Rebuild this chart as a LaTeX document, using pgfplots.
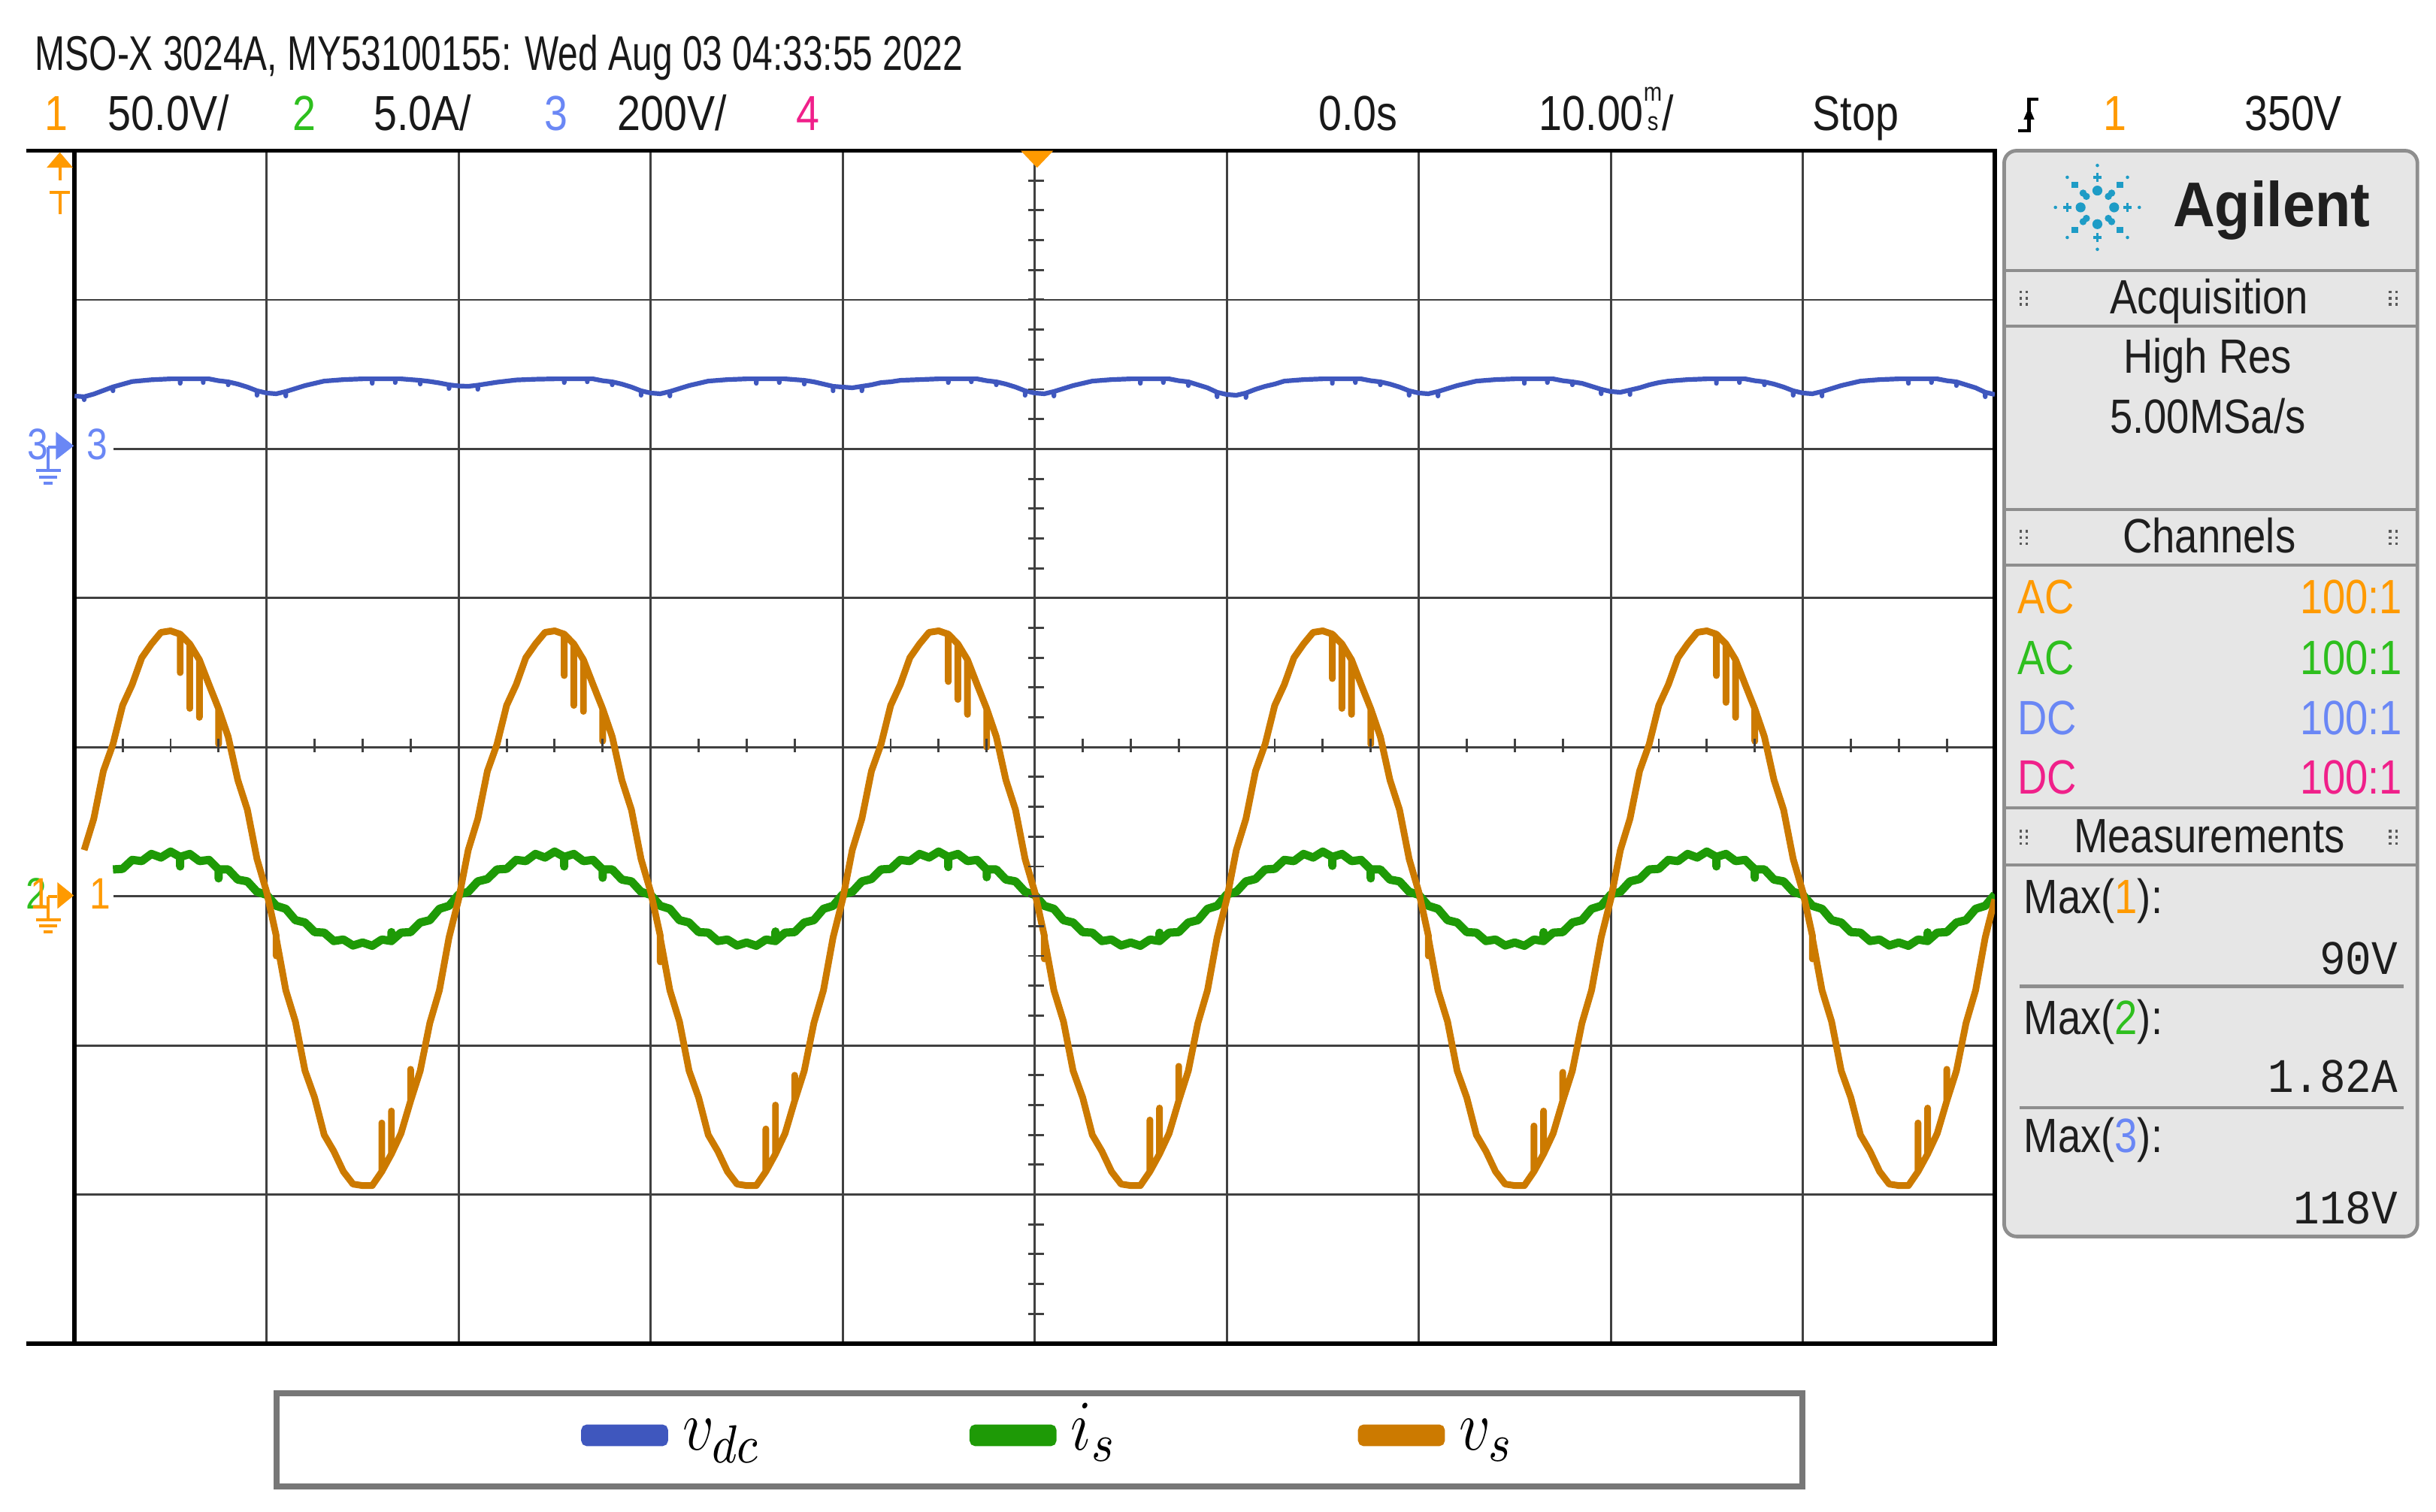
\documentclass[border=0pt]{standalone}
\usepackage{fontspec}
\usepackage{pgfplots}
\pgfplotsset{compat=1.18}
\setmainfont{Liberation Sans}
\newfontfamily\scopefont[FakeStretch=0.74]{Liberation Sans}
\newfontfamily\scopewide[FakeStretch=0.85]{Liberation Sans}
\newfontfamily\scopemono[FakeStretch=0.9]{Liberation Mono}
\newfontfamily\agilfont[FakeStretch=0.92]{Liberation Sans}

\definecolor{trblue}{HTML}{3F57BE}
\definecolor{trgreen}{HTML}{1E9A06}
\definecolor{trorange}{HTML}{CC7A00}
\definecolor{chone}{HTML}{FF9A00}
\definecolor{chtwo}{HTML}{2EBF1E}
\definecolor{chthree}{HTML}{6A87F5}
\definecolor{chfour}{HTML}{F0208A}
\definecolor{gridgray}{HTML}{404040}
\definecolor{panelfill}{HTML}{E6E6E6}
\definecolor{panelline}{HTML}{8E8E8E}
\definecolor{paneltext}{HTML}{1E1E1E}
\definecolor{agilentblue}{HTML}{1E9CC6}
\definecolor{legframe}{HTML}{777777}

\newcommand{\hdr}{\scopefont\fontsize{9.4}{11}\selectfont}
\newcommand{\hdrw}{\scopewide\fontsize{9.5}{11}\selectfont}
\newcommand{\pnl}{\scopewide\fontsize{9.3}{11}\selectfont}
\newcommand{\pmono}{\scopemono\fontsize{9.3}{11}\selectfont}
\newcommand{\lbl}{\scopewide\fontsize{8.5}{10}\selectfont}
\newcommand{\legtxt}[1]{\scalebox{1}[1.15]{$#1$}}

\begin{document}
\begin{tikzpicture}
\begin{axis}[
  at={(14.4pt,-259.5pt)}, anchor=south west,
  scale only axis, width=370.8pt, height=230.4pt,
  xmin=-50, xmax=50, ymin=-4, ymax=4,
  xtick={-40,-30,...,40}, ytick={-3,-2,...,3},
  xticklabels={}, yticklabels={},
  tick style={draw=none},
  grid=major, major grid style={draw=gridgray, line width=0.42pt},
  axis line style={draw=black, line width=0.8pt},
  legend columns=3,
  legend style={
    at={(0.1036,-0.0391)}, anchor=north west,
    draw=legframe, line width=1.2pt,
    inner xsep=58.8pt, inner ysep=4pt,
    column sep=0pt,
    /tikz/every even column/.style={column sep=9.3pt},
    font=\fontsize{13}{13}\selectfont,
    nodes={inner sep=0pt, text height=7pt, text depth=3pt},
    cells={anchor=base west},
  },
]
% v_dc, channel 3: 200 V/div, ground 2 div above centre
\addplot[trblue, line width=0.9pt, line join=round, forget plot, y filter/.expression={y/200+2}] coordinates {
(-50,71) (-49.5,70) (-49.5,66) (-49.5,70) (-49,73.6) (-48.5,78.4) (-48,83.2) (-48,78) (-48,83.2) (-47.5,86.8) (-47,90.4) (-46,92.8) (-45,94) (-44.5,94) (-44.5,88) (-44.5,94) (-43.5,94) (-43.3,94) (-43.3,89) (-43.3,94) (-43,94)
(-42.5,91.5) (-42,90) (-42,86) (-42,90) (-41.5,87) (-41,83) (-40.5,78) (-40.5,72) (-40.5,78) (-40,75) (-39.5,74) (-39,77) (-39,71) (-39,77) (-38.5,81) (-38,85) (-37.5,88) (-37,91) (-36,93) (-35,94) (-34.5,94) (-34.5,88) (-34.5,94) (-33.5,94) (-33.3,94) (-33.3,89) (-33.3,94) (-33,94)
(-32.5,93) (-32,92) (-32,87) (-32,92) (-31.5,90.5) (-31,88.5) (-30.5,86) (-30.5,81) (-30.5,86) (-30,84.5) (-29.5,84) (-29,85.5) (-29,80) (-29,85.5) (-28.5,87.5) (-28,89.5) (-27.5,91) (-27,92.5) (-26,93.5) (-25,94) (-24.5,94) (-24.5,89) (-24.5,94) (-23.5,94) (-23.3,94) (-23.3,90) (-23.3,94) (-23,94)
(-22.5,91.5) (-22,90) (-22,86) (-22,90) (-21.5,87) (-21,83) (-20.5,78) (-20.5,72) (-20.5,78) (-20,75) (-19.5,74) (-19,77) (-19,71) (-19,77) (-18.5,81) (-18,85) (-17.5,88) (-17,91) (-16,93) (-15,94) (-14.5,94) (-14.5,88) (-14.5,94) (-13.5,94) (-13.3,94) (-13.3,89) (-13.3,94) (-13,94)
(-12.5,93) (-12,92) (-12,87) (-12,92) (-11.5,90) (-11,87) (-10.5,84) (-10.5,78) (-10.5,84) (-10,83) (-9.5,82) (-9,84) (-9,78) (-9,84) (-8.5,86) (-8,89) (-7.5,90) (-7,92) (-6,93) (-5,94) (-4.5,94) (-4.5,89) (-4.5,94) (-3.5,94) (-3.3,94) (-3.3,90) (-3.3,94) (-3,94)
(-2.5,91.5) (-2,90) (-2,86) (-2,90) (-1.5,87) (-1,83) (-0.5,78) (-0.5,72) (-0.5,78) (0,75) (0.5,74) (1,77) (1,71) (1,77) (1.5,81) (2,85) (2.5,88) (3,91) (4,93) (5,94) (5.5,94) (5.5,88) (5.5,94) (6.5,94) (6.7,94) (6.7,89) (6.7,94) (7,94)
(7.5,91.5) (8,90) (8,85) (8,90) (8.5,86) (9,82) (9.5,76) (9.5,70) (9.5,76) (10,73) (10.5,72) (11,75) (11,69) (11,75) (11.5,80) (12,84) (12.5,87) (13,91) (14,93) (15,94) (15.5,94) (15.5,88) (15.5,94) (16.5,94) (16.7,94) (16.7,89) (16.7,94) (17,94)
(17.5,91.5) (18,90) (18,86) (18,90) (18.5,87) (19,83) (19.5,78) (19.5,72) (19.5,78) (20,75) (20.5,74) (21,77) (21,71) (21,77) (21.5,81) (22,85) (22.5,88) (23,91) (24,93) (25,94) (25.5,94) (25.5,88) (25.5,94) (26.5,94) (26.7,94) (26.7,89) (26.7,94) (27,94)
(27.5,91.5) (28,90) (28,86) (28,90) (28.5,88) (29,84) (29.5,80) (29.5,74) (29.5,80) (30,77) (30.5,76) (31,79) (31,73) (31,79) (31.5,82) (32,86) (32.5,89) (33,91) (34,93) (35,94) (35.5,94) (35.5,88) (35.5,94) (36.5,94) (36.7,94) (36.7,89) (36.7,94) (37,94)
(37.5,91.5) (38,90) (38,86) (38,90) (38.5,87) (39,83) (39.5,78) (39.5,72) (39.5,78) (40,75) (40.5,74) (41,77) (41,71) (41,77) (41.5,81) (42,85) (42.5,88) (43,91) (44,93) (45,94) (45.5,94) (45.5,88) (45.5,94) (46.5,94) (46.7,94) (46.7,89) (46.7,94) (47,94)
(47.5,91.5) (48,90) (48,85) (48,90) (48.5,86) (49,82) (49.5,76) (49.5,70) (49.5,76) (50,73)
};
% i_s, channel 2: 5 A/div, ground 1 div below centre
\addplot[trgreen, line width=1.6pt, line join=round, forget plot, y filter/.expression={y/5-1}] coordinates {
(-48,0.90) (-47.5,0.92) (-47,1.22) (-46.5,1.18) (-46,1.42) (-45.5,1.30) (-45,1.50) (-44.5,1.32) (-44.5,1.0) (-44.5,1.32) (-44,1.42) (-43.5,1.18) (-43,1.22) (-42.5,0.90) (-42.5,0.6) (-42.5,0.90) (-42,0.90) (-41.5,0.56) (-41,0.50) (-40.5,0.15)
(-40,0.05) (-39.5,-0.32) (-39,-0.42) (-38.5,-0.80) (-38,-0.88) (-37.5,-1.20) (-37,-1.22) (-36.5,-1.50) (-36,-1.45) (-35.5,-1.65) (-35,-1.55) (-34.5,-1.66) (-34,-1.45) (-33.5,-1.50) (-33.5,-1.2) (-33.5,-1.50) (-33,-1.22) (-32.5,-1.20) (-32,-0.88) (-31.5,-0.80) (-31,-0.42) (-30.5,-0.32)
(-30,0.06) (-29.5,0.15) (-29,0.50) (-28.5,0.58) (-28,0.90) (-27.5,0.92) (-27,1.22) (-26.5,1.18) (-26,1.42) (-25.5,1.30) (-25,1.50) (-24.5,1.32) (-24.5,1.0) (-24.5,1.32) (-24,1.42) (-23.5,1.18) (-23,1.22) (-22.5,0.90) (-22.5,0.62) (-22.5,0.90) (-22,0.90) (-21.5,0.56) (-21,0.50) (-20.5,0.15)
(-20,0.05) (-19.5,-0.32) (-19,-0.42) (-18.5,-0.80) (-18,-0.88) (-17.5,-1.20) (-17,-1.22) (-16.5,-1.50) (-16,-1.45) (-15.5,-1.65) (-15,-1.55) (-14.5,-1.66) (-14,-1.45) (-13.5,-1.50) (-13.5,-1.18) (-13.5,-1.50) (-13,-1.22) (-12.5,-1.20) (-12,-0.88) (-11.5,-0.80) (-11,-0.42) (-10.5,-0.32)
(-10,0.06) (-9.5,0.15) (-9,0.50) (-8.5,0.58) (-8,0.90) (-7.5,0.92) (-7,1.22) (-6.5,1.18) (-6,1.42) (-5.5,1.30) (-5,1.50) (-4.5,1.32) (-4.5,0.98) (-4.5,1.32) (-4,1.42) (-3.5,1.18) (-3,1.22) (-2.5,0.90) (-2.5,0.64) (-2.5,0.90) (-2,0.90) (-1.5,0.56) (-1,0.50) (-0.5,0.15)
(0,0.05) (0.5,-0.32) (1,-0.42) (1.5,-0.80) (2,-0.88) (2.5,-1.20) (3,-1.22) (3.5,-1.50) (4,-1.45) (4.5,-1.65) (5,-1.55) (5.5,-1.66) (6,-1.45) (6.5,-1.50) (6.5,-1.22) (6.5,-1.50) (7,-1.22) (7.5,-1.20) (8,-0.88) (8.5,-0.80) (9,-0.42) (9.5,-0.32)
(10,0.06) (10.5,0.15) (11,0.50) (11.5,0.58) (12,0.90) (12.5,0.92) (13,1.22) (13.5,1.18) (14,1.42) (14.5,1.30) (15,1.50) (15.5,1.32) (15.5,1.02) (15.5,1.32) (16,1.42) (16.5,1.18) (17,1.22) (17.5,0.90) (17.5,0.60) (17.5,0.90) (18,0.90) (18.5,0.56) (19,0.50) (19.5,0.15)
(20,0.05) (20.5,-0.32) (21,-0.42) (21.5,-0.80) (22,-0.88) (22.5,-1.20) (23,-1.22) (23.5,-1.50) (24,-1.45) (24.5,-1.65) (25,-1.55) (25.5,-1.66) (26,-1.45) (26.5,-1.50) (26.5,-1.20) (26.5,-1.50) (27,-1.22) (27.5,-1.20) (28,-0.88) (28.5,-0.80) (29,-0.42) (29.5,-0.32)
(30,0.06) (30.5,0.15) (31,0.50) (31.5,0.58) (32,0.90) (32.5,0.92) (33,1.22) (33.5,1.18) (34,1.42) (34.5,1.30) (35,1.50) (35.5,1.32) (35.5,1.0) (35.5,1.32) (36,1.42) (36.5,1.18) (37,1.22) (37.5,0.90) (37.5,0.62) (37.5,0.90) (38,0.90) (38.5,0.56) (39,0.50) (39.5,0.15)
(40,0.05) (40.5,-0.32) (41,-0.42) (41.5,-0.80) (42,-0.88) (42.5,-1.20) (43,-1.22) (43.5,-1.50) (44,-1.45) (44.5,-1.65) (45,-1.55) (45.5,-1.66) (46,-1.45) (46.5,-1.50) (46.5,-1.21) (46.5,-1.50) (47,-1.22) (47.5,-1.20) (48,-0.88) (48.5,-0.80) (49,-0.42) (49.5,-0.32) (50,0.06)
};
% v_s, channel 1: 50 V/div, ground 1 div below centre
\addplot[trorange, line width=1.3pt, line join=round, forget plot, y filter/.expression={y/50-1}] coordinates {
(-49.5,15.5) (-49,26) (-48.5,42) (-48,51) (-47.5,64) (-47,71) (-46.5,80) (-46,84.6) (-45.5,88.5) (-45,89) (-44.5,87.9) (-44.5,75) (-44.5,87.9) (-44,84.6) (-44,63) (-44,84.6) (-43.5,79.3) (-43.5,60) (-43.5,79.3) (-43,71) (-42.5,62.9) (-42.5,51) (-42.5,62.9) (-42,53.5) (-41.5,39) (-41,29) (-40.5,12.5)
(-40,1.5) (-39.5,-13.2) (-39.5,-20) (-39.5,-14) (-39,-31.5) (-38.5,-42) (-38,-58.5) (-37.5,-67.5) (-37,-80) (-36.5,-85.5) (-36,-92.3) (-35.5,-96.5) (-35,-97) (-34.5,-97) (-34,-92.3) (-34,-76) (-34,-92.3) (-33.5,-86.4) (-33.5,-72) (-33.5,-86.4) (-33,-79.5) (-32.5,-68.6) (-32.5,-58) (-32.5,-68.6) (-32,-58.5) (-31.5,-42.5) (-31,-31.5) (-30.5,-13.8)
(-30,-1) (-29.5,15.5) (-29,26) (-28.5,42) (-28,51) (-27.5,64) (-27,71) (-26.5,80) (-26,84.6) (-25.5,88.5) (-25,89) (-24.5,87.9) (-24.5,74) (-24.5,87.9) (-24,84.6) (-24,64) (-24,84.6) (-23.5,79.3) (-23.5,62) (-23.5,79.3) (-23,71) (-22.5,62.9) (-22.5,52) (-22.5,62.9) (-22,53.5) (-21.5,39) (-21,29) (-20.5,12.5)
(-20,1.5) (-19.5,-13.2) (-19.5,-22) (-19.5,-14) (-19,-31.5) (-18.5,-42) (-18,-58.5) (-17.5,-67.5) (-17,-80) (-16.5,-85.5) (-16,-92.3) (-15.5,-96.5) (-15,-97) (-14.5,-97) (-14,-92.3) (-14,-78) (-14,-92.3) (-13.5,-86.4) (-13.5,-70) (-13.5,-86.4) (-13,-79.5) (-12.5,-68.6) (-12.5,-60) (-12.5,-68.6) (-12,-58.5) (-11.5,-42.5) (-11,-31.5) (-10.5,-13.8)
(-10,-1) (-9.5,15.5) (-9,26) (-8.5,42) (-8,51) (-7.5,64) (-7,71) (-6.5,80) (-6,84.6) (-5.5,88.5) (-5,89) (-4.5,87.9) (-4.5,72) (-4.5,87.9) (-4,84.6) (-4,66) (-4,84.6) (-3.5,79.3) (-3.5,61) (-3.5,79.3) (-3,71) (-2.5,62.9) (-2.5,50) (-2.5,62.9) (-2,53.5) (-1.5,39) (-1,29) (-0.5,12.5)
(0,1.5) (0.5,-13.2) (0.5,-21) (0.5,-14) (1,-31.5) (1.5,-42) (2,-58.5) (2.5,-67.5) (3,-80) (3.5,-85.5) (4,-92.3) (4.5,-96.5) (5,-97) (5.5,-97) (6,-92.3) (6,-75) (6,-92.3) (6.5,-86.4) (6.5,-71) (6.5,-86.4) (7,-79.5) (7.5,-68.6) (7.5,-57) (7.5,-68.6) (8,-58.5) (8.5,-42.5) (9,-31.5) (9.5,-13.8)
(10,-1) (10.5,15.5) (11,26) (11.5,42) (12,51) (12.5,64) (13,71) (13.5,80) (14,84.6) (14.5,88.5) (15,89) (15.5,87.9) (15.5,73) (15.5,87.9) (16,84.6) (16,63) (16,84.6) (16.5,79.3) (16.5,61) (16.5,79.3) (17,71) (17.5,62.9) (17.5,51) (17.5,62.9) (18,53.5) (18.5,39) (19,29) (19.5,12.5)
(20,1.5) (20.5,-13.2) (20.5,-20) (20.5,-14) (21,-31.5) (21.5,-42) (22,-58.5) (22.5,-67.5) (23,-80) (23.5,-85.5) (24,-92.3) (24.5,-96.5) (25,-97) (25.5,-97) (26,-92.3) (26,-77) (26,-92.3) (26.5,-86.4) (26.5,-72) (26.5,-86.4) (27,-79.5) (27.5,-68.6) (27.5,-59) (27.5,-68.6) (28,-58.5) (28.5,-42.5) (29,-31.5) (29.5,-13.8)
(30,-1) (30.5,15.5) (31,26) (31.5,42) (32,51) (32.5,64) (33,71) (33.5,80) (34,84.6) (34.5,88.5) (35,89) (35.5,87.9) (35.5,74) (35.5,87.9) (36,84.6) (36,65) (36,84.6) (36.5,79.3) (36.5,60) (36.5,79.3) (37,71) (37.5,62.9) (37.5,52) (37.5,62.9) (38,53.5) (38.5,39) (39,29) (39.5,12.5)
(40,1.5) (40.5,-13.2) (40.5,-21) (40.5,-14) (41,-31.5) (41.5,-42) (42,-58.5) (42.5,-67.5) (43,-80) (43.5,-85.5) (44,-92.3) (44.5,-96.5) (45,-97) (45.5,-97) (46,-92.3) (46,-76) (46,-92.3) (46.5,-86.4) (46.5,-71) (46.5,-86.4) (47,-79.5) (47.5,-68.6) (47.5,-58) (47.5,-68.6) (48,-58.5) (48.5,-42.5) (49,-31.5) (49.5,-13.8) (50,-1)
};
\addlegendimage{legend image code/.code={\fill[trblue, rounded corners=0.6pt] (0pt,1.4pt) rectangle (15.6pt,4.4pt);}}
\addlegendentry{\makebox[48.9pt][l]{\hspace*{2.8pt}\legtxt{v_{dc}}}}
\addlegendimage{legend image code/.code={\fill[trgreen, rounded corners=0.6pt] (0pt,1.4pt) rectangle (15.6pt,4.4pt);}}
\addlegendentry{\makebox[48.9pt][l]{\hspace*{2.8pt}\legtxt{i_{s}}}}
\addlegendimage{legend image code/.code={\fill[trorange, rounded corners=0.6pt] (0pt,1.4pt) rectangle (15.6pt,4.4pt);}}
\addlegendentry{\makebox[10.2pt][l]{\hspace*{2.8pt}\legtxt{v_{s}}}}
\end{axis}

% screen furniture, in pixels of the 1568 x 973 picture (origin top left)
\begin{scope}[x=0.3pt, y=-0.3pt]
\draw[black, line width=0.8pt] (17,97)--(48,97) (17,865)--(48,865);
% minor ticks on the centre lines
\foreach \k in {1,...,39} \draw[gridgray, line width=0.42pt] ({48+30.9*\k},475.5)--({48+30.9*\k},484.5);
\foreach \k in {1,...,39} \draw[gridgray, line width=0.42pt] (662,{97+19.2*\k})--(672,{97+19.2*\k});
% trigger position and level markers
\fill[chone] (657,97)--(678,97)--(667.5,108)--cycle;
\fill[chone] (30,108)--(47,108)--(38.5,98)--cycle;
\draw[chone, line width=0.6pt] (38.5,108)--(38.5,116) (32,124)--(45,124) (38.5,124)--(38.5,138);
% channel 3 ground
\node[text=chthree, anchor=base west, inner sep=0pt, font=\lbl] at (17,296) {3};
\draw[chthree, line width=0.6pt] (31,288)--(31,303) (31,288)--(37,288) (23,303)--(39,303) (25,307)--(37,307) (28,311)--(34,311);
\fill[chthree] (36,278)--(36,296)--(47.5,287)--cycle;
\fill[white] (49.5,279) rectangle (73,295);
\node[text=chthree, anchor=base west, inner sep=0pt, font=\lbl] at (55,296) {3};
% channel 1 and 2 ground
\node[text=chtwo, anchor=base west, inner sep=0pt, font=\lbl] at (16,585) {2};
\node[text=chone, anchor=base west, inner sep=0pt, font=\lbl] at (19,585) {1};
\draw[chone, line width=0.6pt] (31,577)--(31,592) (31,577)--(37,577) (23,592)--(39,592) (25,596)--(37,596) (28,600)--(34,600);
\fill[chone] (37,568)--(37,585)--(47.5,576.5)--cycle;
\fill[white] (49.5,568) rectangle (73,584);
\node[text=chone, anchor=base west, inner sep=0pt, font=\lbl] at (57,585) {1};

% header
\node[anchor=base west, inner sep=0pt, font=\hdr, text=black!90] at (22,45) {MSO-X 3024A, MY53100155: Wed Aug 03 04:33:55 2022};
\begin{scope}[every node/.style={anchor=base west, inner sep=0pt, font=\hdrw, text=black!90}]
\node[text=chone] at (28,84) {1};
\node at (69,84) {50.0V/};
\node[text=chtwo] at (188,84) {2};
\node at (240,84) {5.0A/};
\node[text=chthree] at (350,84) {3};
\node at (397,84) {200V/};
\node[text=chfour] at (512,84) {4};
\node at (848,84) {0.0s};
\node at (990,84) {10.00{\fontsize{5}{5.5}\selectfont\shortstack{m\\s}}/};
\node at (1166,84) {Stop};
\node[text=chone] at (1353,84) {1};
\node at (1444,84) {350V};
\end{scope}
\draw[black, line width=0.6pt] (1299,84)--(1306,84)--(1306,64)--(1312,64);
\fill[black] (1302.5,77)--(1309.5,77)--(1306,69)--cycle;

% side panel
\draw[panelline, line width=0.7pt, fill=panelfill, rounded corners=2.4pt] (1290,97) rectangle (1556,796);
\foreach \yy in {174,210,328,364,520,557} \draw[panelline, line width=0.6pt] (1291,\yy)--(1555,\yy);
\foreach \yy in {192,346,539} {
  \foreach \xx in {1300.5,1304.5,1538.5,1542.5} {
    \foreach \dd in {-4,0,4} \fill[black!65] ({\xx-0.8},{\yy+\dd-0.8}) rectangle ({\xx+0.8},{\yy+\dd+0.8});
  }
}
% logo
\begin{scope}[shift={(1350,133.5)}]
\foreach \a in {0,90,180,270} {
  \fill[agilentblue] (\a:10.8) circle[radius=3.2];
  \fill[agilentblue] (\a:19.4) ++(-2.8,-0.9) rectangle ++(5.6,1.8);
  \fill[agilentblue] (\a:19.4) ++(-0.9,-2.8) rectangle ++(1.8,5.6);
  \fill[agilentblue] (\a:27) circle[radius=1.1];
}
\foreach \a in {45,135,225,315} {
  \fill[agilentblue] (\a:10) circle[radius=2.3];
  \fill[agilentblue] (\a:13) circle[radius=2.3];
  \fill[agilentblue] (\a:20.6) ++(-2,-2) rectangle ++(4,4);
  \fill[agilentblue] (\a:27.4) circle[radius=1.1];
}
\end{scope}
\node[anchor=base west, inner sep=0pt, text=black!88, font=\agilfont\bfseries\fontsize{12.2}{13}\selectfont] at (1398,146) {Agilent};
\begin{scope}[every node/.style={inner sep=0pt, font=\pnl, text=paneltext}]
\node[anchor=base] at (1422,202) {Acquisition};
\node[anchor=base] at (1421,240) {High Res};
\node[anchor=base] at (1421,279) {5.00MSa/s};
\node[anchor=base] at (1422,356) {Channels};
\node[anchor=base west, text=chone] at (1298,395) {AC};
\node[anchor=base east, text=chone] at (1547,395) {100:1};
\node[anchor=base west, text=chtwo] at (1298,434) {AC};
\node[anchor=base east, text=chtwo] at (1547,434) {100:1};
\node[anchor=base west, text=chthree] at (1298,473) {DC};
\node[anchor=base east, text=chthree] at (1547,473) {100:1};
\node[anchor=base west, text=chfour] at (1298,511) {DC};
\node[anchor=base east, text=chfour] at (1547,511) {100:1};
\node[anchor=base] at (1422,549) {Measurements};
\node[anchor=base west] at (1302,588) {Max(\textcolor{chone}{1}):};
\node[anchor=base west] at (1302,666) {Max(\textcolor{chtwo}{2}):};
\node[anchor=base west] at (1302,742) {Max(\textcolor{chthree}{3}):};
\node[anchor=base east, font=\pmono] at (1544,627) {90V};
\node[anchor=base east, font=\pmono] at (1544,703) {1.82A};
\node[anchor=base east, font=\pmono] at (1544,788) {118V};
\end{scope}
\draw[panelline, line width=0.6pt] (1300,635)--(1547,635) (1300,713)--(1547,713);
\end{scope}

\pgfresetboundingbox
\path (0,0) rectangle (470.4pt,-291.9pt);
\end{tikzpicture}
\end{document}
